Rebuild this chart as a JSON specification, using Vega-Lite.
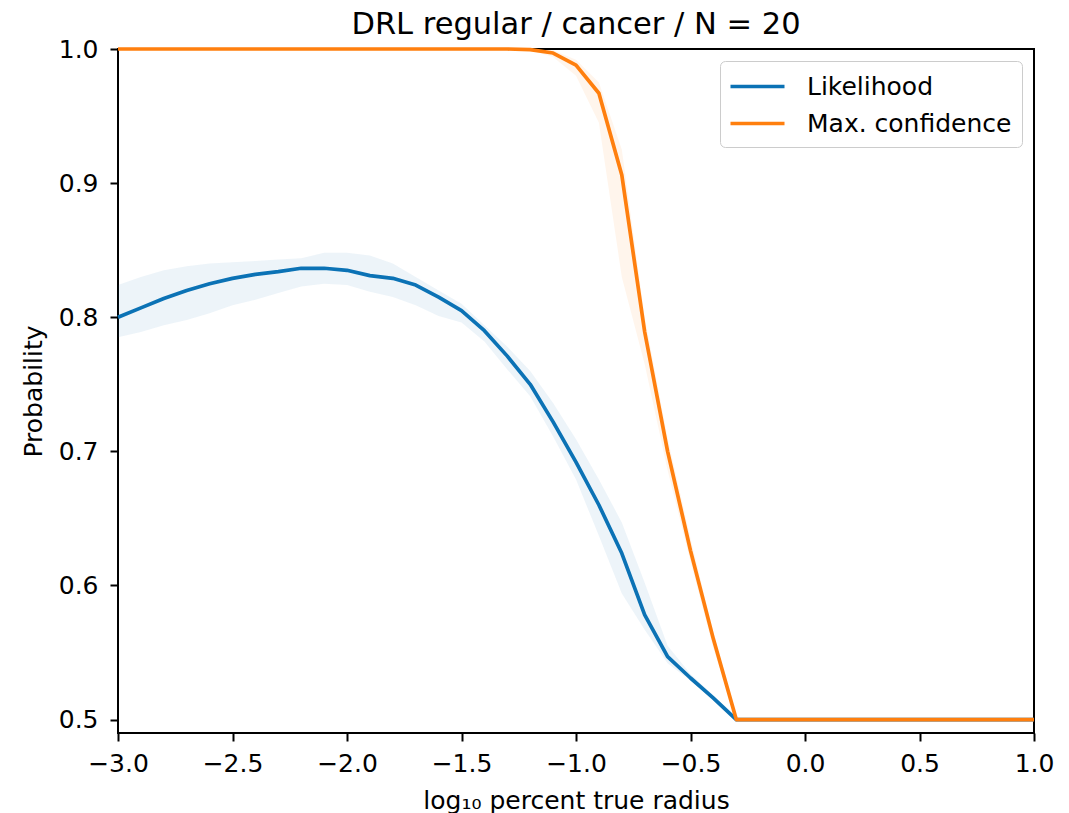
{
  "$schema": "https://vega.github.io/schema/vega-lite/v6.json",
  "autosize": "none",
  "width": 916,
  "height": 684,
  "padding": {"left": 118, "top": 49, "right": 35, "bottom": 80},
  "background": "white",
  "title": {"text": "DRL regular / cancer / N = 20", "font": "DejaVu Sans", "fontSize": 30.5, "fontWeight": "normal", "color": "black", "frame": "group", "offset": -3, "anchor": "middle"},
  "config": {
    "view": {"stroke": "black", "strokeWidth": 2},
    "font": "DejaVu Sans",
    "axis": {"grid": false, "domain": false, "labelFlush": false, "tickColor": "black", "tickWidth": 2, "tickSize": 8, "labelFont": "DejaVu Sans", "labelFontSize": 25, "labelColor": "black", "titleFont": "DejaVu Sans", "titleFontSize": 25, "titleFontWeight": "normal", "titleColor": "black"},
    "legend": {"orient": "top-right", "offset": 12, "labelFont": "DejaVu Sans", "labelFontSize": 25, "labelColor": "black", "labelLimit": 0, "symbolType": "M-2,0H2", "symbolStrokeWidth": 3.7, "symbolSize": 729, "symbolOffset": 12, "labelOffset": 34, "padding": 10, "rowPadding": 8, "strokeColor": "#cccccc", "fillColor": "white", "cornerRadius": 5}
  },
  "data": {"values": [
    {"x": -3.0, "s": "Likelihood", "m": 0.800, "lo": 0.785, "hi": 0.824},
    {"x": -2.9, "s": "Likelihood", "m": 0.807, "lo": 0.789, "hi": 0.830},
    {"x": -2.8, "s": "Likelihood", "m": 0.814, "lo": 0.794, "hi": 0.835},
    {"x": -2.7, "s": "Likelihood", "m": 0.820, "lo": 0.798, "hi": 0.838},
    {"x": -2.6, "s": "Likelihood", "m": 0.825, "lo": 0.803, "hi": 0.840},
    {"x": -2.5, "s": "Likelihood", "m": 0.829, "lo": 0.809, "hi": 0.841},
    {"x": -2.4, "s": "Likelihood", "m": 0.832, "lo": 0.813, "hi": 0.842},
    {"x": -2.3, "s": "Likelihood", "m": 0.834, "lo": 0.818, "hi": 0.843},
    {"x": -2.2, "s": "Likelihood", "m": 0.8365, "lo": 0.823, "hi": 0.844},
    {"x": -2.1, "s": "Likelihood", "m": 0.8365, "lo": 0.825, "hi": 0.848},
    {"x": -2.0, "s": "Likelihood", "m": 0.835, "lo": 0.824, "hi": 0.848},
    {"x": -1.9, "s": "Likelihood", "m": 0.831, "lo": 0.819, "hi": 0.846},
    {"x": -1.8, "s": "Likelihood", "m": 0.829, "lo": 0.815, "hi": 0.840},
    {"x": -1.7, "s": "Likelihood", "m": 0.824, "lo": 0.809, "hi": 0.830},
    {"x": -1.6, "s": "Likelihood", "m": 0.815, "lo": 0.801, "hi": 0.820},
    {"x": -1.5, "s": "Likelihood", "m": 0.805, "lo": 0.796, "hi": 0.810},
    {"x": -1.4, "s": "Likelihood", "m": 0.790, "lo": 0.782, "hi": 0.794},
    {"x": -1.3, "s": "Likelihood", "m": 0.771, "lo": 0.761, "hi": 0.778},
    {"x": -1.2, "s": "Likelihood", "m": 0.750, "lo": 0.741, "hi": 0.760},
    {"x": -1.1, "s": "Likelihood", "m": 0.722, "lo": 0.711, "hi": 0.736},
    {"x": -1.0, "s": "Likelihood", "m": 0.692, "lo": 0.679, "hi": 0.709},
    {"x": -0.9, "s": "Likelihood", "m": 0.660, "lo": 0.637, "hi": 0.679},
    {"x": -0.8, "s": "Likelihood", "m": 0.624, "lo": 0.594, "hi": 0.647},
    {"x": -0.7, "s": "Likelihood", "m": 0.578, "lo": 0.567, "hi": 0.602},
    {"x": -0.6, "s": "Likelihood", "m": 0.547, "lo": 0.542, "hi": 0.555},
    {"x": -0.5, "s": "Likelihood", "m": 0.531, "lo": 0.529, "hi": 0.534},
    {"x": -0.4, "s": "Likelihood", "m": 0.516, "lo": 0.515, "hi": 0.518},
    {"x": -0.3, "s": "Likelihood", "m": 0.5, "lo": 0.5, "hi": 0.5},
    {"x": -0.2, "s": "Likelihood", "m": 0.5, "lo": 0.5, "hi": 0.5},
    {"x": -0.1, "s": "Likelihood", "m": 0.5, "lo": 0.5, "hi": 0.5},
    {"x": 0.0, "s": "Likelihood", "m": 0.5, "lo": 0.5, "hi": 0.5},
    {"x": 0.1, "s": "Likelihood", "m": 0.5, "lo": 0.5, "hi": 0.5},
    {"x": 0.2, "s": "Likelihood", "m": 0.5, "lo": 0.5, "hi": 0.5},
    {"x": 0.3, "s": "Likelihood", "m": 0.5, "lo": 0.5, "hi": 0.5},
    {"x": 0.4, "s": "Likelihood", "m": 0.5, "lo": 0.5, "hi": 0.5},
    {"x": 0.5, "s": "Likelihood", "m": 0.5, "lo": 0.5, "hi": 0.5},
    {"x": 0.6, "s": "Likelihood", "m": 0.5, "lo": 0.5, "hi": 0.5},
    {"x": 0.7, "s": "Likelihood", "m": 0.5, "lo": 0.5, "hi": 0.5},
    {"x": 0.8, "s": "Likelihood", "m": 0.5, "lo": 0.5, "hi": 0.5},
    {"x": 0.9, "s": "Likelihood", "m": 0.5, "lo": 0.5, "hi": 0.5},
    {"x": 1.0, "s": "Likelihood", "m": 0.5, "lo": 0.5, "hi": 0.5},
    {"x": -3.0, "s": "Max. confidence", "m": 1.0, "lo": 1.0, "hi": 1.0},
    {"x": -2.9, "s": "Max. confidence", "m": 1.0, "lo": 1.0, "hi": 1.0},
    {"x": -2.8, "s": "Max. confidence", "m": 1.0, "lo": 1.0, "hi": 1.0},
    {"x": -2.7, "s": "Max. confidence", "m": 1.0, "lo": 1.0, "hi": 1.0},
    {"x": -2.6, "s": "Max. confidence", "m": 1.0, "lo": 1.0, "hi": 1.0},
    {"x": -2.5, "s": "Max. confidence", "m": 1.0, "lo": 1.0, "hi": 1.0},
    {"x": -2.4, "s": "Max. confidence", "m": 1.0, "lo": 1.0, "hi": 1.0},
    {"x": -2.3, "s": "Max. confidence", "m": 1.0, "lo": 1.0, "hi": 1.0},
    {"x": -2.2, "s": "Max. confidence", "m": 1.0, "lo": 1.0, "hi": 1.0},
    {"x": -2.1, "s": "Max. confidence", "m": 1.0, "lo": 1.0, "hi": 1.0},
    {"x": -2.0, "s": "Max. confidence", "m": 1.0, "lo": 1.0, "hi": 1.0},
    {"x": -1.9, "s": "Max. confidence", "m": 1.0, "lo": 1.0, "hi": 1.0},
    {"x": -1.8, "s": "Max. confidence", "m": 1.0, "lo": 1.0, "hi": 1.0},
    {"x": -1.7, "s": "Max. confidence", "m": 1.0, "lo": 1.0, "hi": 1.0},
    {"x": -1.6, "s": "Max. confidence", "m": 1.0, "lo": 1.0, "hi": 1.0},
    {"x": -1.5, "s": "Max. confidence", "m": 1.0, "lo": 1.0, "hi": 1.0},
    {"x": -1.4, "s": "Max. confidence", "m": 1.0, "lo": 1.0, "hi": 1.0},
    {"x": -1.3, "s": "Max. confidence", "m": 1.0, "lo": 1.0, "hi": 1.0},
    {"x": -1.2, "s": "Max. confidence", "m": 0.9995, "lo": 0.999, "hi": 1.0},
    {"x": -1.1, "s": "Max. confidence", "m": 0.997, "lo": 0.994, "hi": 0.999},
    {"x": -1.0, "s": "Max. confidence", "m": 0.988, "lo": 0.980, "hi": 0.992},
    {"x": -0.9, "s": "Max. confidence", "m": 0.967, "lo": 0.945, "hi": 0.975},
    {"x": -0.8, "s": "Max. confidence", "m": 0.906, "lo": 0.830, "hi": 0.925},
    {"x": -0.7, "s": "Max. confidence", "m": 0.789, "lo": 0.765, "hi": 0.800},
    {"x": -0.6, "s": "Max. confidence", "m": 0.700, "lo": 0.686, "hi": 0.710},
    {"x": -0.5, "s": "Max. confidence", "m": 0.626, "lo": 0.618, "hi": 0.635},
    {"x": -0.4, "s": "Max. confidence", "m": 0.560, "lo": 0.553, "hi": 0.565},
    {"x": -0.3, "s": "Max. confidence", "m": 0.5, "lo": 0.5, "hi": 0.5},
    {"x": -0.2, "s": "Max. confidence", "m": 0.5, "lo": 0.5, "hi": 0.5},
    {"x": -0.1, "s": "Max. confidence", "m": 0.5, "lo": 0.5, "hi": 0.5},
    {"x": 0.0, "s": "Max. confidence", "m": 0.5, "lo": 0.5, "hi": 0.5},
    {"x": 0.1, "s": "Max. confidence", "m": 0.5, "lo": 0.5, "hi": 0.5},
    {"x": 0.2, "s": "Max. confidence", "m": 0.5, "lo": 0.5, "hi": 0.5},
    {"x": 0.3, "s": "Max. confidence", "m": 0.5, "lo": 0.5, "hi": 0.5},
    {"x": 0.4, "s": "Max. confidence", "m": 0.5, "lo": 0.5, "hi": 0.5},
    {"x": 0.5, "s": "Max. confidence", "m": 0.5, "lo": 0.5, "hi": 0.5},
    {"x": 0.6, "s": "Max. confidence", "m": 0.5, "lo": 0.5, "hi": 0.5},
    {"x": 0.7, "s": "Max. confidence", "m": 0.5, "lo": 0.5, "hi": 0.5},
    {"x": 0.8, "s": "Max. confidence", "m": 0.5, "lo": 0.5, "hi": 0.5},
    {"x": 0.9, "s": "Max. confidence", "m": 0.5, "lo": 0.5, "hi": 0.5},
    {"x": 1.0, "s": "Max. confidence", "m": 0.5, "lo": 0.5, "hi": 0.5}
  ]},
  "encoding": {
    "x": {"field": "x", "type": "quantitative", "scale": {"domain": [-3, 1], "nice": false, "zero": false},
      "axis": {"values": [-3, -2.5, -2, -1.5, -1, -0.5, 0, 0.5, 1], "format": ".1f", "title": "log₁₀ percent true radius", "labelPadding": 10, "titlePadding": 12}}
  },
  "layer": [
    {
      "transform": [{"filter": "datum.s === 'Likelihood'"}],
      "mark": {"type": "area", "opacity": 0.08, "strokeWidth": 0, "fill": "#1f77b4"},
      "encoding": {
        "y": {"field": "lo", "type": "quantitative", "scale": {"domain": [0.49, 1.0], "nice": false, "zero": false},
          "axis": {"values": [0.5, 0.6, 0.7, 0.8, 0.9, 1.0], "format": ".1f", "title": "Probability", "labelPadding": 12, "titlePadding": 12}},
        "y2": {"field": "hi"}
      }
    },
    {
      "transform": [{"filter": "datum.s === 'Max. confidence'"}],
      "mark": {"type": "area", "opacity": 0.08, "strokeWidth": 0, "fill": "#ff7f0e"},
      "encoding": {
        "y": {"field": "lo", "type": "quantitative"},
        "y2": {"field": "hi"}
      }
    },
    {
      "mark": {"type": "line", "strokeWidth": 3.7, "strokeJoin": "round"},
      "encoding": {
        "y": {"field": "m", "type": "quantitative"},
        "stroke": {"field": "s", "type": "nominal", "title": null, "scale": {"domain": ["Likelihood", "Max. confidence"], "range": ["#0b72b5", "#ff7f0e"]}}
      }
    }
  ]
}
